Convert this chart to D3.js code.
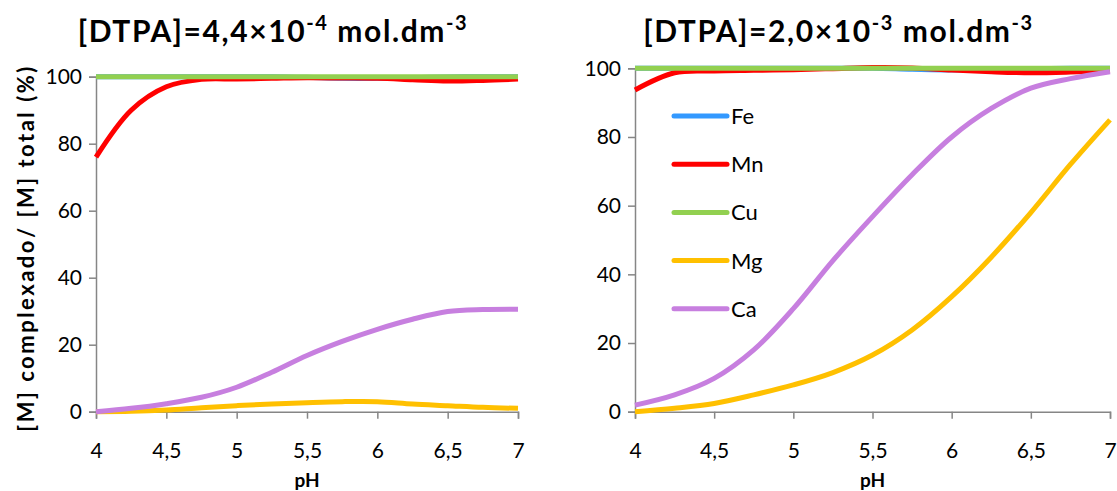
<!DOCTYPE html>
<html>
<head>
<meta charset="utf-8">
<script src="https://cdn.jsdelivr.net/npm/d3@7"></script>
<style>
  body { margin: 0; background: #fff; }
  svg { font-family: Lato, "Open Sans", sans-serif; }
</style>
</head>
<body>
<main></main>
<script>
const pH = [4, 4.25, 4.5, 4.75, 5, 5.25, 5.5, 5.75, 6, 6.25, 6.5, 6.75, 7]
const metals = ["Fe", "Mn", "Cu", "Mg", "Ca"]
const colors = ["#3399ff", "#ff0000", "#92d050", "#ffc000", "#c77fdf"]
const yTicks = [0, 20, 40, 60, 80, 100]
const xTicks = [4, 4.5, 5, 5.5, 6, 6.5, 7]

// [DTPA] = 4,4e-4
const fe1 = [100, 100, 100, 100, 100, 100, 99.8, 99.5, 99.5, 99.7, 99.9, 100, 100]
const mn1 = [76, 90, 97, 99.2, 99.3, 99.5, 99.7, 99.6, 99.5, 99.1, 98.7, 98.9, 99.3]
const cu1 = [100, 100, 100, 100, 100, 100, 100, 100, 100, 100, 100, 100, 100]
const mg1 = [0, 0.1, 0.5, 1.2, 1.8, 2.3, 2.7, 3, 3, 2.3, 1.8, 1.3, 1]
const ca1 = [0, 1, 2.4, 4.3, 7.3, 11.8, 16.8, 21, 24.6, 27.6, 29.9, 30.5, 30.6]

// [DTPA] = 2,0e-3
const fe2 = [100, 100, 100, 100, 100, 100, 100, 99.7, 99.5, 99.7, 99.9, 100, 100]
const mn2 = [93.7, 98.7, 99.2, 99.4, 99.6, 99.9, 100.2, 100.1, 99.5, 99, 98.7, 98.9, 99.3]
const cu2 = [100, 100, 100, 100, 100, 100, 100, 100, 100, 100, 100, 100, 100]
const mg2 = [0, 1, 2.4, 4.9, 7.8, 11.4, 16.5, 23.8, 33.5, 45, 58, 72, 85]
const ca2 = [1.9, 4.9, 9.7, 18, 30, 44, 56.8, 69, 80, 88.3, 94.2, 97, 99]

const width = 1117, height = 491
const axisColor = "#868686"

let svg = d3.select("main").append("svg")
    .attr("width", width)
    .attr("height", height)
    .attr("viewBox", [0, 0, width, height])

function drawChart(opts) {
    let { x0, x1, y0, y1, series, title, sup, showLegend } = opts

    let x = d3.scaleLinear().domain([4, 7]).range([x0, x1])
    let y = d3.scaleLinear().domain([0, 100]).range([y1, y0])

    let g = svg.append("g")

    // axes
    let yAxis = g.append("g")
        .attr("transform", `translate(${x0},0)`)
        .call(d3.axisLeft(y).tickValues(yTicks).tickSize(7).tickPadding(7))
    let xAxis = g.append("g")
        .attr("transform", `translate(0,${y1})`)
        .call(d3.axisBottom(x).tickValues(xTicks).tickSize(7).tickPadding(24)
            .tickFormat(d => String(d).replace(".", ",")))

    for (let ax of [xAxis, yAxis]) {
        ax.select(".domain").attr("stroke", axisColor).attr("stroke-width", 1.5)
        ax.selectAll(".tick line").attr("stroke", axisColor).attr("stroke-width", 1.5)
        ax.selectAll(".tick text").attr("fill", "#000").attr("font-size", 21)
            .attr("font-family", "Lato, sans-serif")
    }

    let line = d3.line()
        .x((d, i) => x(pH[i]))
        .y(d => y(d))
        .curve(d3.curveCatmullRom.alpha(0.5))

    series.forEach((vals, i) => {
        g.append("path")
            .attr("d", line(vals))
            .attr("fill", "none")
            .attr("stroke", colors[i])
            .attr("stroke-width", 5)
    })

    // title
    let t = g.append("text")
        .attr("x", (x0 + x1) / 2 - 34)
        .attr("y", 42)
        .attr("text-anchor", "middle")
        .attr("font-size", 30)
        .attr("font-weight", "bold")
        .attr("letter-spacing", 1.6)
    t.append("tspan").text(title)
    t.append("tspan").attr("font-size", 20).attr("dy", -12).text(sup)
    t.append("tspan").attr("dy", 12).text(" mol.dm")
    t.append("tspan").attr("font-size", 20).attr("dy", -12).text("-3")

    // x label
    g.append("text")
        .attr("x", (x0 + x1) / 2)
        .attr("y", 487)
        .attr("text-anchor", "middle")
        .attr("font-size", 19)
        .attr("font-weight", "bold")
        .text("pH")

    if (showLegend) {
        let lg = g.append("g")
        metals.forEach((m, i) => {
            let ly = 116 + i * 48.2
            lg.append("line")
                .attr("x1", 674).attr("x2", 727)
                .attr("y1", ly).attr("y2", ly)
                .attr("stroke", colors[i])
                .attr("stroke-width", 5)
                .attr("stroke-linecap", "round")
            lg.append("text")
                .attr("x", 731)
                .attr("y", ly + 8)
                .attr("font-size", 22)
                .text(m)
        })
    }
}

drawChart({
    x0: 96, x1: 518, y0: 76.7, y1: 411.7,
    series: [fe1, mn1, cu1, mg1, ca1],
    title: "[DTPA]=4,4×10", sup: "-4",
    showLegend: false
})

drawChart({
    x0: 635, x1: 1110, y0: 68.3, y1: 411.7,
    series: [fe2, mn2, cu2, mg2, ca2],
    title: "[DTPA]=2,0×10", sup: "-3",
    showLegend: true
})

// y label (left chart only)
svg.append("text")
    .attr("transform", "translate(34,248) rotate(-90)")
    .attr("text-anchor", "middle")
    .attr("font-size", 22)
    .attr("font-weight", "bold")
    .attr("letter-spacing", 2.5)
    .text("[M] complexado/ [M] total (%)")
</script>
</body>
</html>
